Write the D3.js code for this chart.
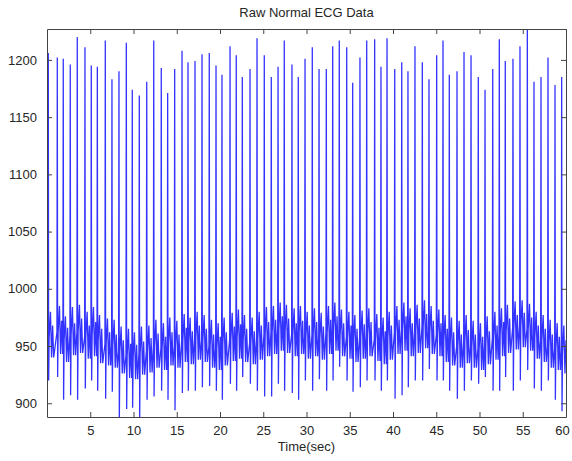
<!DOCTYPE html>
<html>
<head>
<meta charset="utf-8">
<script src="https://cdn.jsdelivr.net/npm/d3@7"></script>
<style>
  body { margin: 0; background: #fff; }
  text { font-family: "Liberation Sans", Arial, sans-serif; fill: #262626; }
</style>
</head>
<body>
<div id="chart"></div>
<script>
// R-peak times (sec) and values, one entry per beat
const beatTime = [0.15, 1.19, 1.88, 2.69, 3.50, 4.39, 5.12, 5.82, 6.74, 7.51,
  8.32, 9.17, 9.86, 10.67, 11.53, 12.34, 13.21, 13.95, 14.76, 15.61,
  16.30, 17.11, 17.92, 18.76, 19.54, 20.23, 21.16, 21.88, 22.58, 23.47,
  24.28, 25.12, 25.93, 26.71, 27.43, 28.32, 29.05, 29.83, 30.67, 31.45,
  32.29, 33.03, 33.79, 34.65, 35.34, 36.18, 36.96, 37.88, 38.61, 39.31,
  40.20, 41.01, 41.73, 42.54, 43.39, 44.16, 45.05, 45.78, 46.51, 47.40,
  48.21, 49.02, 49.86, 50.64, 51.53, 52.29, 52.98, 53.87, 54.68, 55.53,
  56.30, 57.11, 57.92, 58.73, 59.50]
const rPeak = [1206, 1202, 1201, 1196, 1220, 1211, 1195, 1194, 1217, 1183,
  1190, 1215, 1174, 1169, 1181, 1217, 1193, 1171, 1192, 1208,
  1198, 1199, 1205, 1206, 1195, 1187, 1212, 1204, 1185, 1192,
  1219, 1204, 1185, 1194, 1217, 1196, 1185, 1201, 1211, 1192,
  1192, 1212, 1217, 1211, 1180, 1202, 1217, 1218, 1194, 1219,
  1192, 1198, 1190, 1212, 1198, 1183, 1204, 1217, 1187, 1190,
  1207, 1204, 1185, 1174, 1192, 1218, 1199, 1201, 1212, 1232,
  1181, 1185, 1202, 1178, 1185]
const sTrough = [920, 923, 903, 907, 903, 913, 920, 911, 904, 910,
  882, 895, 896, 882, 903, 906, 911, 903, 894, 909,
  911, 911, 914, 915, 911, 903, 917, 911, 923, 917,
  911, 906, 906, 917, 911, 909, 903, 920, 911, 921,
  911, 920, 932, 920, 910, 914, 920, 920, 911, 920,
  904, 907, 914, 920, 920, 930, 920, 920, 911, 904,
  911, 920, 917, 923, 911, 911, 923, 911, 920, 929,
  913, 911, 920, 903, 893]
// level of the band between beats: baseline, T-wave top, low dip, P-wave top
const baseLevel = [958, 962, 955, 960, 963, 958, 960, 955, 952, 950,
  945, 942, 940, 944, 946, 950, 948, 952, 950, 955,
  953, 957, 955, 950, 948, 952, 956, 958, 955, 953,
  957, 960, 962, 965, 963, 960, 962, 958, 960, 957,
  962, 965, 960, 958, 955, 958, 960, 956, 953, 957,
  962, 965, 960, 963, 967, 962, 960, 955, 952, 950,
  954, 950, 948, 953, 957, 960, 963, 966, 968, 965,
  958, 955, 950, 948, 945]
const tWave = [980, 985, 976, 984, 986, 980, 984, 977, 974, 973,
  967, 965, 962, 967, 968, 973, 970, 975, 972, 978,
  975, 980, 977, 973, 970, 975, 979, 982, 977, 975,
  980, 984, 985, 988, 986, 983, 985, 980, 983, 979,
  985, 988, 982, 980, 977, 981, 983, 978, 975, 980,
  985, 988, 983, 986, 990, 985, 982, 977, 975, 972,
  977, 972, 970, 976, 980, 983, 986, 989, 990, 987,
  980, 977, 973, 970, 968]
const lowDip = [940, 943, 936, 942, 944, 939, 941, 935, 933, 931,
  926, 922, 921, 925, 927, 931, 929, 933, 931, 936,
  934, 938, 936, 931, 929, 933, 937, 939, 936, 934,
  938, 941, 943, 946, 944, 941, 943, 939, 941, 938,
  943, 946, 941, 939, 936, 939, 941, 937, 934, 938,
  943, 946, 941, 944, 948, 943, 941, 936, 933, 931,
  935, 931, 929, 934, 938, 941, 944, 947, 949, 946,
  939, 936, 931, 929, 926]
const pWave = [968, 972, 966, 970, 974, 968, 971, 965, 962, 960,
  955, 952, 951, 954, 957, 961, 958, 962, 960, 966,
  963, 968, 965, 960, 958, 962, 967, 969, 965, 963,
  968, 971, 973, 976, 974, 970, 972, 968, 971, 967,
  973, 976, 970, 968, 965, 969, 971, 966, 963, 968,
  973, 976, 970, 974, 978, 972, 970, 965, 962, 960,
  964, 960, 958, 963, 968, 971, 974, 977, 979, 975,
  968, 965, 960, 958, 955]
const xTicks = [5, 10, 15, 20, 25, 30, 35, 40, 45, 50, 55, 60]
const yTicks = [900, 950, 1000, 1050, 1100, 1150, 1200]

const W = 572, H = 461
const margin = {top: 29, right: 6, bottom: 44, left: 47}

// one polyline vertex per read value, in the order Q, R, S, J, T, dip, P, dip
const points = []
beatTime.forEach((t, i) => {
  points.push([t - 0.04, baseLevel[i]])
  points.push([t, rPeak[i]])
  points.push([t + 0.04, sTrough[i]])
  points.push([t + 0.1, baseLevel[i]])
  points.push([t + 0.25, tWave[i]])
  points.push([t + 0.38, lowDip[i]])
  points.push([t + 0.5, pWave[i]])
  points.push([t + 0.62, lowDip[i]])
})

const x = d3.scaleLinear().domain([0, 60]).range([margin.left, W - margin.right])
const y = d3.scaleLinear().domain([888, 1227]).range([H - margin.bottom, margin.top])

const svg = d3.select('#chart').append('svg')
  .attr('width', W).attr('height', H)

svg.append('clipPath').attr('id', 'clip')
  .append('rect')
    .attr('x', x(0)).attr('y', y(1227))
    .attr('width', x(60) - x(0)).attr('height', y(888) - y(1227))

svg.append('path')
  .datum(points)
  .attr('clip-path', 'url(#clip)')
  .attr('fill', 'none')
  .attr('stroke', '#0000ff')
  .attr('stroke-width', 1.3)
  .attr('stroke-opacity', 0.8)
  .attr('d', d3.line().x(d => x(d[0])).y(d => y(d[1])))

// matlab style box with inward ticks on all four sides
const tickLen = 5
const styleAxis = g => {
  g.selectAll('.domain').attr('stroke', '#444')
  g.selectAll('.tick line').attr('stroke', '#444')
  g.selectAll('.tick text').style('font-size', '13px').style('fill', '#262626')
}

svg.append('g')
    .attr('transform', `translate(0,${y(888)})`)
    .call(d3.axisBottom(x).tickValues(xTicks).tickSizeInner(-tickLen).tickSizeOuter(0).tickPadding(9))
    .call(styleAxis)
    .call(g => g.selectAll('.tick text').filter(d => d === 60).attr('dx', -4))
svg.append('g')
    .attr('transform', `translate(0,${y(1227)})`)
    .call(d3.axisTop(x).tickValues(xTicks).tickSizeInner(-tickLen).tickSizeOuter(0).tickFormat(''))
    .call(styleAxis)
svg.append('g')
    .attr('transform', `translate(${x(0)},0)`)
    .call(d3.axisLeft(y).tickValues(yTicks).tickFormat(d3.format('d')).tickSizeInner(-tickLen).tickSizeOuter(0).tickPadding(10))
    .call(styleAxis)
svg.append('g')
    .attr('transform', `translate(${x(60)},0)`)
    .call(d3.axisRight(y).tickValues(yTicks).tickSizeInner(-tickLen).tickSizeOuter(0).tickFormat(''))
    .call(styleAxis)

svg.append('text')
    .attr('x', (x(0) + x(60)) / 2).attr('y', 17)
    .attr('text-anchor', 'middle')
    .style('font-size', '13px')
    .text('Raw Normal ECG Data')

svg.append('text')
    .attr('x', (x(0) + x(60)) / 2).attr('y', 451)
    .attr('text-anchor', 'middle')
    .style('font-size', '13px')
    .text('Time(sec)')
</script>
</body>
</html>
